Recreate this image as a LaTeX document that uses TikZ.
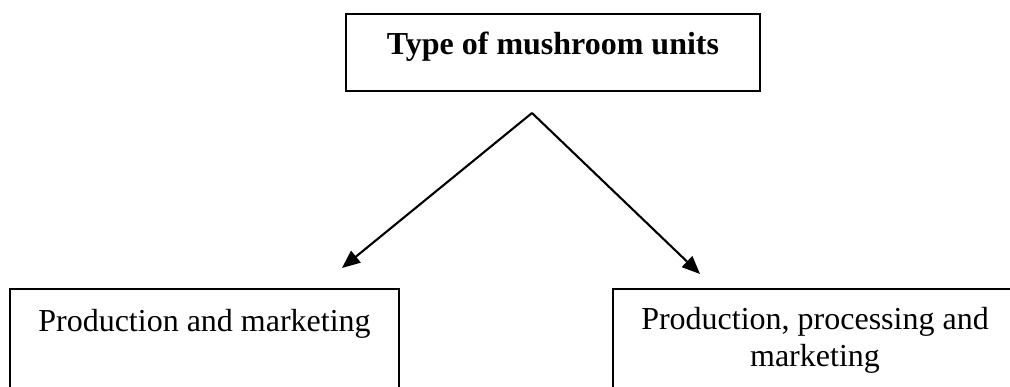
\documentclass[tikz,border=0pt]{standalone}
\usepackage{fontspec}
\setmainfont{Liberation Serif}
\usetikzlibrary{arrows.meta}

\tikzset{
  frame/.style={draw=black, line width=2.5pt, rectangle, inner xsep=0pt, inner ysep=0pt,
                font=\fontsize{32}{37}\selectfont, anchor=north, align=center},
  link/.style={line width=2.1pt, -{Triangle[length=18pt,width=15pt]}},
}

\begin{document}
\begin{tikzpicture}[x=1pt, y=-1pt]
  \useasboundingbox (0,0) rectangle (1010,387);
  \clip (0,0) rectangle (1010,387);

  % heading box
  \node[frame, minimum width=414pt, text height=40pt, text depth=37pt,
        font=\fontsize{32}{37}\selectfont\bfseries] (top) at (553,13) {Type of mushroom units};

  % the two kinds of unit; their lower edges run past the bottom of the page
  \node[frame, minimum width=389pt, text height=42pt, text depth=120pt] (left) at (204.5,288)
        {Production and marketing};
  \node[frame, minimum width=404pt, text height=40pt, text depth=120pt] (right) at (815,288)
        {\begin{tabular}[t]{@{}c@{}}Production, processing and\\ marketing\end{tabular}};

  % branching arrows
  \coordinate (apex) at (532,113);
  \coordinate (ltip) at (342,268);
  \coordinate (rtip) at (700,274);
  \draw[link] (apex) -- (ltip);
  \draw[link] (apex) -- (rtip);
\end{tikzpicture}
\end{document}
